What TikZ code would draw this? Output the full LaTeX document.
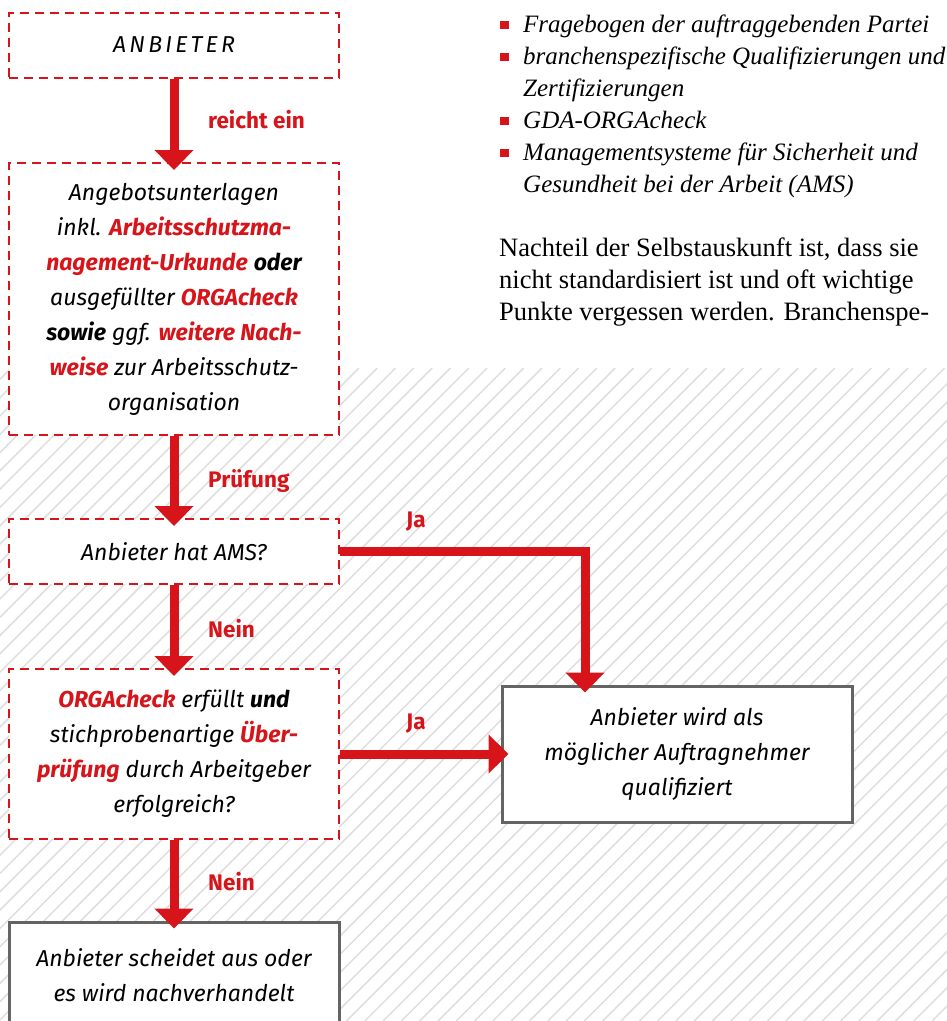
\documentclass[tikz,border=0pt]{standalone}
\usepackage{fontspec}
\setsansfont{Fira Sans}
\newfontfamily\bodyserif{Liberation Serif}
\usetikzlibrary{arrows.meta}
\definecolor{dgred}{RGB}{214,20,26}
\definecolor{hatchgray}{RGB}{222,222,222}
\definecolor{boxgray}{RGB}{100,100,100}
\newcommand{\hl}[1]{\textcolor{dgred}{\bfseries #1}}
\tikzstyle{flowarrow} = [-{Triangle[width=38pt,length=20pt]},line width=9pt,dgred,shorten >=-8pt]
\tikzstyle{dashbox} = [draw=dgred,line width=2pt,dash pattern=on 9pt off 6pt,fill=white,align=center,font=\sffamily\itshape\fontsize{23}{35}\selectfont]
\tikzstyle{endbox} = [draw=boxgray,line width=3pt,fill=white,align=center,font=\sffamily\itshape\fontsize{23}{35}\selectfont]
\tikzstyle{steplabel} = [anchor=base west,inner sep=0pt,text=dgred,font=\sffamily\bfseries\fontsize{22.5}{25}\selectfont]
\tikzstyle{listline} = [anchor=base west,inner sep=0pt,font=\bodyserif\itshape\fontsize{25}{32}\selectfont]
\tikzstyle{bodyline} = [anchor=base west,inner sep=0pt,font=\bodyserif\fontsize{26.5}{32}\selectfont]

\begin{document}
\begin{tikzpicture}[x=1pt,y=-1pt]
        \useasboundingbox (0,0) rectangle (947,1021);
        \begin{scope}
          \clip (0,368) rectangle (947,1021);
          \foreach \a in {-660,-641.7,...,950}
            \draw[hatchgray, line width=1.5pt] (\a,1021) -- (\a+653,368);
        \end{scope}

        \foreach \y in {32,64,128,160}
          \fill[dgred] (500,\y-11.5) rectangle +(8.5,8.5);
        \node[listline] (l1) at (523,32) {Fragebogen der auftraggebenden Partei};
        \node[listline] (l2) at (523,64) {branchenspezifische Qualifizierungen und};
        \node[listline] (l3) at (523,96) {Zertifizierungen};
        \node[listline] (l4) at (523,128) {GDA-ORGAcheck};
        \node[listline] (l5) at (523,160) {Managementsysteme für Sicherheit und};
        \node[listline] (l6) at (523,192) {Gesundheit bei der Arbeit (AMS)};
        \node[bodyline] (p1) at (499,256) {Nachteil der Selbstauskunft ist, dass sie};
        \node[bodyline] (p2) at (499,288) {nicht standardisiert ist und oft wichtige};
        \node[bodyline] (p3) at (499,320) {Punkte vergessen werden. Branchenspe-};

        \node[dashbox, minimum width=330, minimum height=65] (anb) at (174,45)
          {\addfontfeature{LetterSpace=14}ANBIETER};
        \node[dashbox, minimum width=330, minimum height=272] (unterlagen) at (174,299)
          {Angebotsunterlagen\\ inkl. \hl{Arbeitsschutzma-}\\ \hl{nagement-Urkunde} \textbf{oder}\\ ausgefüllter \hl{ORGAcheck}\\ \textbf{sowie} ggf. \hl{weitere Nach-}\\ \hl{weise} zur Arbeitsschutz-\\ organisation};
        \node[dashbox, minimum width=330, minimum height=65] (ams) at (174,551.5) {Anbieter hat AMS?};
        \node[dashbox, minimum width=330, minimum height=170] (orga) at (174,754)
          {\hl{ORGAcheck} erfüllt \textbf{und}\\ stichprobenartige \hl{Über-}\\ \hl{prüfung} durch Arbeitgeber\\ erfolgreich?};
        \node[endbox, minimum width=350, minimum height=136] (quali) at (677,754)
          {Anbieter wird als\\ möglicher Auftragnehmer\\ qualifiziert};
        \node[endbox, minimum width=330, minimum height=106] (aus) at (174,975)
          {Anbieter scheidet aus oder\\ es wird nachverhandelt};

        \draw[flowarrow] (anb) -- (unterlagen);
        \draw[flowarrow] (unterlagen) -- (ams);
        \draw[flowarrow] (ams) -- (orga);
        \draw[flowarrow] (orga) -- (aus);
        \draw[flowarrow] (ams.east) -| ([xshift=-92pt]quali.north);
        \draw[flowarrow] (orga.east) -- (orga.east -| quali.west);

        \node[steplabel] (t1) at (208,128) {reicht ein};
        \node[steplabel] (t2) at (208,487) {Prüfung};
        \node[steplabel] (t3) at (406,527) {Ja};
        \node[steplabel] (t4) at (208,637) {Nein};
        \node[steplabel] (t5) at (406,729) {Ja};
        \node[steplabel] (t6) at (208,890) {Nein};

      \end{tikzpicture}
\end{document}
